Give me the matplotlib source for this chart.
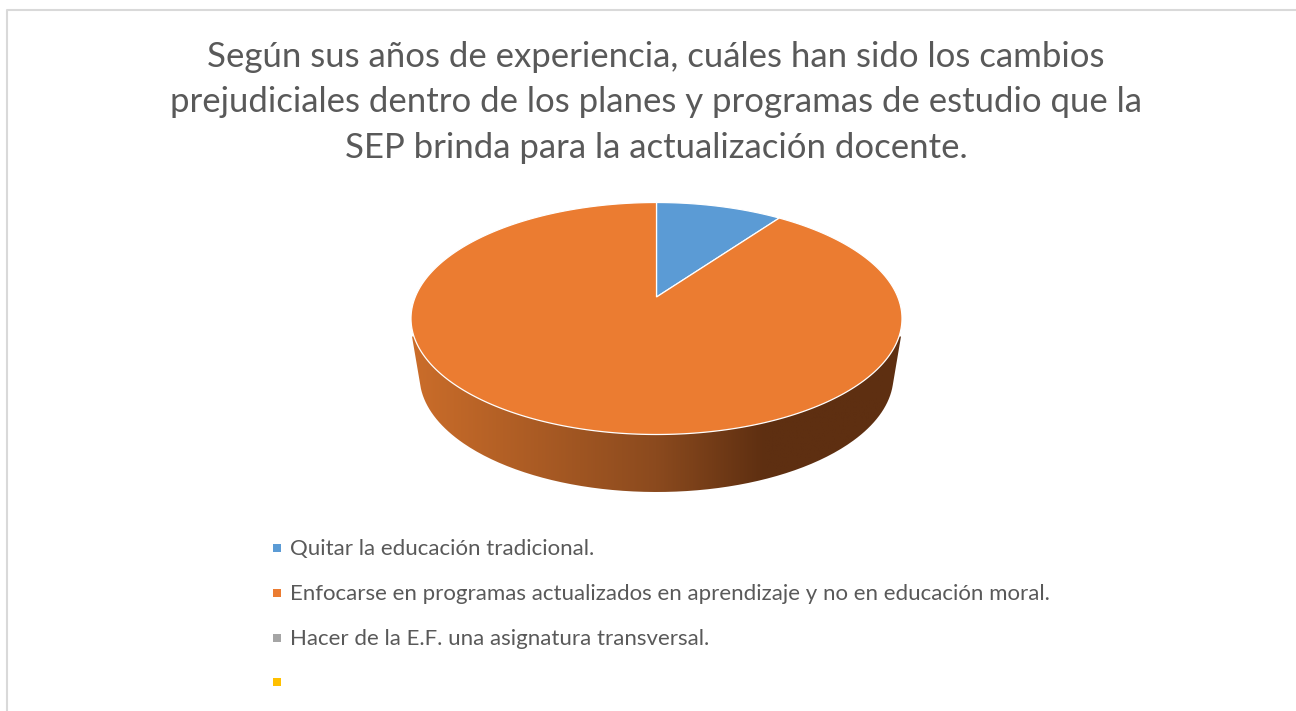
"""
Three-quarter pie about the SEP study plans, drawn by hand because
matplotlib has no 3D pie: top wedges as polygons, rim as a clipped gradient.
"""
import numpy as np
import matplotlib
matplotlib.use('Agg')
import matplotlib.pyplot as plt
from matplotlib.colors import LinearSegmentedColormap
from matplotlib.patches import PathPatch, Polygon, Rectangle
from matplotlib.path import Path

plt.rcParams['font.family'] = ['Lato', 'DejaVu Sans']

TITLE_LINES = [
    "Según sus años de experiencia, cuáles han sido los cambios",
    "prejudiciales dentro de los planes y programas de estudio que la",
    "SEP brinda para la actualización docente.",
]
categories = [
    "Quitar la educación tradicional.",
    "Enfocarse en programas actualizados en aprendizaje y no en educación moral.",
    "Hacer de la E.F. una asignatura transversal.",
    "",
]
values = [1, 11, 0, 0]
colors = ['#5B9BD5', '#EB7C31', '#A5A5A5', '#FFC000']
TEXT_COLOR = '#595959'

# pie geometry in image pixels
CX, CY, RX, RY = 656.5, 318.5, 245.5, 116
APEX = (656.5, 297)
LOW_CX, LOW_CY, LOW_RX, LOW_RY = 656.5, 376, 237, 116

fig = plt.figure(figsize=(12.96, 7.11), dpi=100)
ax = fig.add_axes([0, 0, 1, 1])
ax.set_xlim(0, 1296)
ax.set_ylim(711, 0)
ax.axis('off')

# chart frame, only left and top are inside the crop
ax.plot([6.5, 6.5, 1296], [711, 9.5, 9.5], color='#D9D9D9', lw=1.5, solid_capstyle='butt')

for i, line in enumerate(TITLE_LINES):
    ax.text(656, 57 + i * 45.5, line, ha='center', va='center', fontsize=25.0, color=TEXT_COLOR)

# rim: gradient image clipped to the outline below the top ellipse
t = np.linspace(np.pi - 0.08, 0.08, 200)
rim = [(CX - RX + 1, CY + 18)]
rim += list(zip(LOW_CX + LOW_RX * np.cos(t), LOW_CY + LOW_RY * np.sin(t)))
rim += [(CX + RX - 1, CY + 18)]
rim_patch = PathPatch(Path(rim + [rim[0]]), fc='none', ec='none')
ax.add_patch(rim_patch)
cmap = LinearSegmentedColormap.from_list(
    'rim', [(0, '#CB6D2A'), (0.5, '#8B4A1E'), (0.72, '#5E2F11'), (1, '#5E2F11')])
grad = ax.imshow(np.linspace(0, 1, 256)[None, :], cmap=cmap, aspect='auto',
                 extent=[CX - RX, CX + RX, 500, 300], zorder=2)
grad.set_clip_path(rim_patch)
ax.set_xlim(0, 1296)
ax.set_ylim(711, 0)

# top face, clockwise from 12 o'clock
start = 0.0
total = sum(values)
for value, color in zip(values, colors):
    if value == 0:
        continue
    end = start + value / total * 2 * np.pi
    a = np.linspace(start, end, 300)
    pts = np.column_stack([CX + RX * np.sin(a), CY - RY * np.cos(a)])
    ax.add_patch(Polygon(np.vstack([APEX, pts]), closed=True, fc=color,
                         ec='white', lw=0.9, zorder=3))
    start = end

# legend
for i, (label, color) in enumerate(zip(categories, colors)):
    y = 548 + i * 44.8
    ax.add_patch(Rectangle((273, y - 4), 8, 8, fc=color, ec='none'))
    ax.text(290, y + 1, label, ha='left', va='center', fontsize=16.05, color=TEXT_COLOR)

fig.savefig('out.png', dpi=100)
